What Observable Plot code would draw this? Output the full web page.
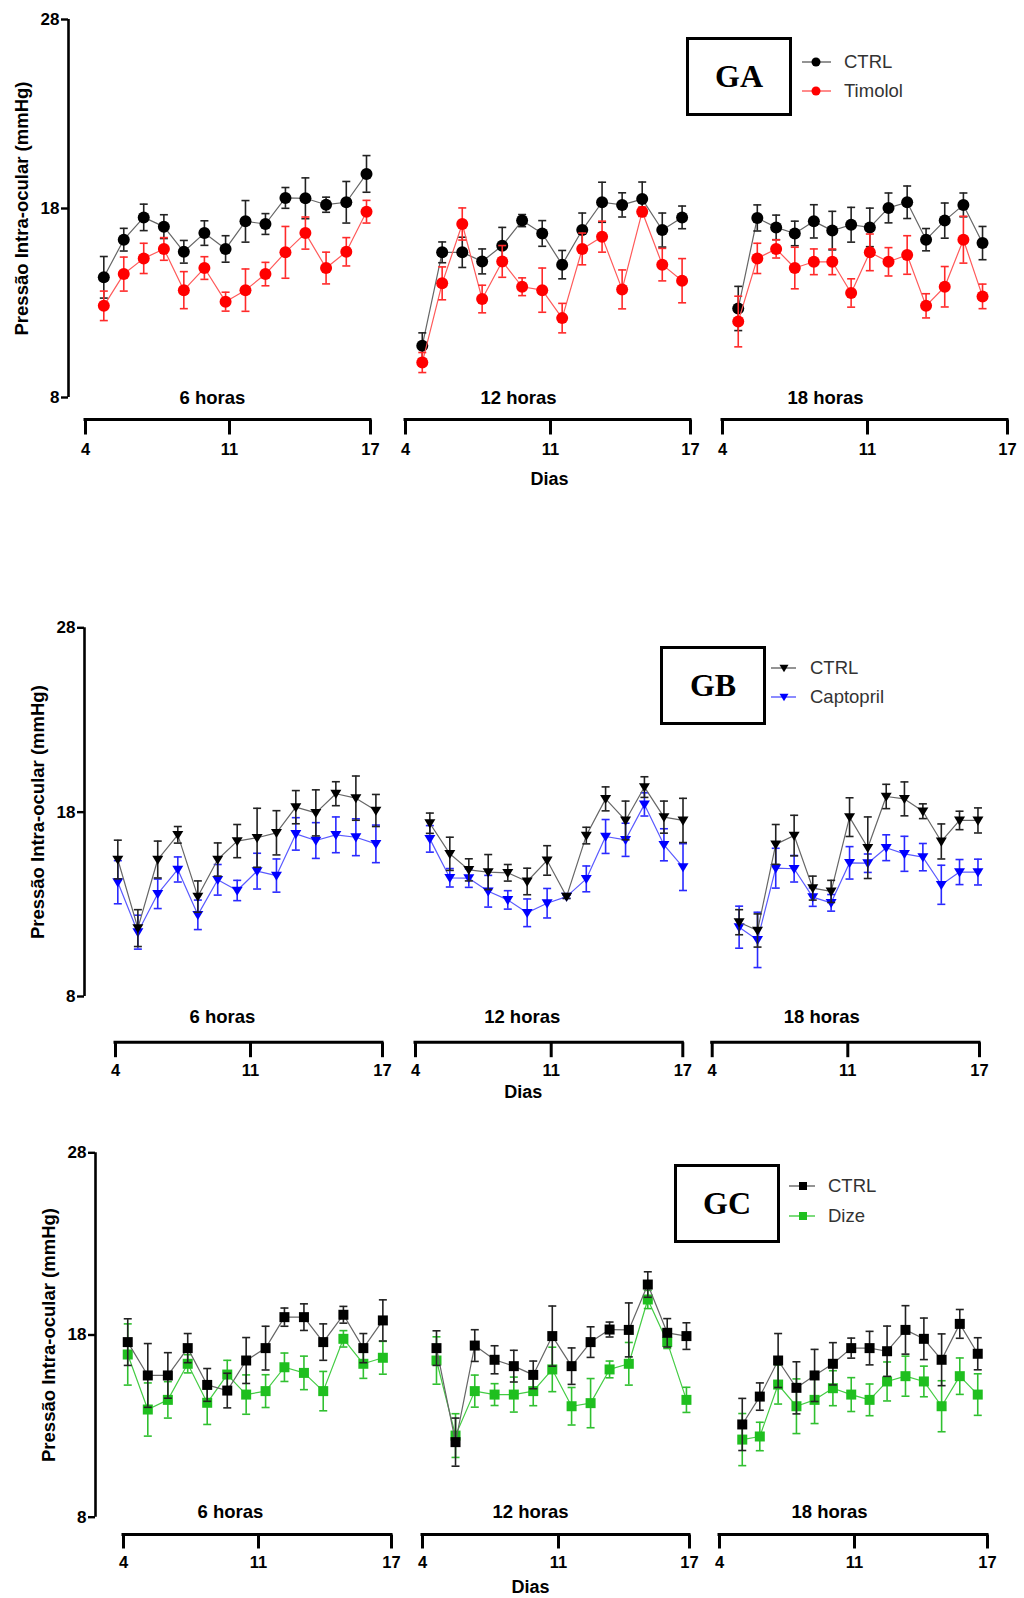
<!DOCTYPE html>
<html><head><meta charset="utf-8">
<script src="https://cdn.jsdelivr.net/npm/d3@7"></script>
<script src="https://cdn.jsdelivr.net/npm/@observablehq/plot@0.6"></script>
<style>
body{margin:0;background:#fff;font-family:"Liberation Sans",Arial,sans-serif}
#root{position:relative;width:1024px;height:1598px;background:#fff;overflow:hidden}
.panel{position:absolute;left:0}
.box{position:absolute;border:3.5px solid #000;box-sizing:border-box;display:flex;align-items:center;justify-content:center;font-family:"Liberation Serif","Times New Roman",serif;font-weight:bold;font-size:32px;color:#000;background:#fff}
.legtxt{position:absolute;font-size:18.5px;color:#333;line-height:20px;white-space:nowrap}
.sw{position:absolute}
</style></head><body><div id="root"></div><script>
// ---------- shared labels ----------
const segmentNames = ["6 horas", "12 horas", "18 horas"];
const dayTicks = [4, 11, 17];
const yTicks = [8, 18, 28];
const yTitle = "Pressão Intra-ocular (mmHg)";
const xTitle = "Dias";

// ---------- GA: CTRL vs Timolol ----------
const gaX6  = [4.89,5.86,6.83,7.81,8.78,9.78,10.81,11.68,12.53,13.38,14.23,15.11,15.97,16.83];
const gaX12 = [4.81,5.77,6.74,7.70,8.67,9.63,10.60,11.50,12.36,13.21,14.07,14.93,15.79,16.64];
const gaX18 = [4.76,5.68,6.59,7.49,8.41,9.30,10.21,11.10,11.90,12.70,13.51,14.31,15.11,15.93];
const gaCtrl6  = [14.36,16.35,17.53,17.04,15.71,16.70,15.86,17.32,17.18,18.56,18.54,18.20,18.33,19.83];
const gaCtrl6E = [1.1,0.6,0.7,0.63,0.6,0.65,0.7,1.1,0.55,0.55,1.08,0.4,1.1,0.97];
const gaTim6   = [12.85,14.53,15.36,15.86,13.68,14.85,13.07,13.68,14.53,15.68,16.70,14.85,15.71,17.83];
const gaTim6E  = [0.78,0.9,0.8,0.6,0.98,0.6,0.5,1.12,0.62,1.37,0.85,0.84,0.75,0.6];
const gaCtrl12  = [10.74,15.68,15.68,15.20,16.03,17.36,16.68,15.03,16.86,18.33,18.19,18.50,16.86,17.53];
const gaCtrl12E = [0.68,0.55,0.8,0.66,0.97,0.32,0.68,0.75,0.9,1.06,0.64,0.9,0.9,0.6];
const gaTim12   = [9.85,14.04,17.18,13.21,15.20,13.86,13.68,12.20,15.86,16.51,13.72,17.83,15.03,14.18];
const gaTim12E  = [0.53,0.87,0.85,0.73,0.84,0.47,1.17,0.78,0.84,0.82,1.03,0.25,0.86,1.17];
const gaCtrl18  = [12.71,17.50,17.00,16.68,17.32,16.83,17.14,17.00,18.03,18.33,16.35,17.36,18.19,16.17];
const gaCtrl18E = [1.17,0.69,0.65,0.65,0.88,1.02,0.92,1.02,0.79,0.86,0.59,0.93,0.63,0.88];
const gaTim18   = [12.02,15.36,15.86,14.85,15.18,15.18,13.53,15.68,15.18,15.54,12.85,13.86,16.35,13.35];
const gaTim18E  = [1.34,0.8,0.48,1.1,0.68,0.68,0.75,0.97,0.75,1.02,0.64,1.07,1.24,0.65];

// ---------- GB: CTRL vs Captopril ----------
const gbX6  = [4.12,5.16,6.19,7.23,8.27,9.30,10.31,11.30,12.18,13.06,13.97,14.88,15.79,16.70];
const gbX12 = [4.74,5.77,6.75,7.75,8.76,9.76,10.79,11.70,12.60,13.48,14.39,15.25,16.14,17.05];
const gbX18 = [5.39,6.34,7.28,8.23,9.19,10.14,11.08,11.91,12.75,13.58,14.42,15.26,16.09,16.93];
const gbCtrl6  = [15.43,11.71,15.43,16.77,13.42,15.43,16.43,16.61,16.88,18.27,17.96,19.00,18.76,18.09];
const gbCtrl6E = [1.05,1.0,1.0,0.45,0.85,0.9,0.9,1.6,1.2,0.9,1.25,0.65,1.2,0.87];
const gbCap6   = [14.20,11.49,13.57,14.89,12.43,14.33,13.75,14.80,14.56,16.82,16.46,16.77,16.64,16.28];
const gbCap6E  = [1.17,0.92,0.8,0.68,0.8,0.83,0.55,0.97,0.9,0.88,0.97,0.97,1.0,1.02];
const gbCtrl12  = [17.40,15.74,14.87,14.75,14.71,14.24,15.38,13.42,16.73,18.72,17.55,19.36,17.73,17.55];
const gbCtrl12E = [0.55,0.9,0.6,0.95,0.45,0.72,0.8,0.1,0.45,0.65,1.05,0.56,0.87,1.2];
const gbCap12   = [16.55,14.44,14.42,13.71,13.24,12.54,13.06,13.42,14.38,16.68,16.50,18.42,16.23,15.02];
const gbCap12E  = [0.72,0.5,0.5,0.86,0.5,0.75,0.8,0.1,0.7,0.92,0.9,0.63,0.87,1.27];
const gbCtrl18  = [12.03,11.58,16.25,16.73,13.88,13.70,17.73,16.07,18.85,18.72,18.05,16.41,17.55,17.55];
const gbCtrl18E = [0.68,0.9,1.08,1.1,0.65,0.6,1.05,1.67,0.66,0.92,0.4,0.95,0.5,0.68];
const gbCap18   = [11.76,11.07,14.96,14.93,13.39,13.08,15.25,15.23,16.07,15.74,15.56,14.06,14.75,14.75];
const gbCap18E  = [1.14,1.5,1.08,0.72,0.5,0.45,0.88,0.5,0.7,0.95,0.74,1.06,0.68,0.7];

// ---------- GC: CTRL vs Dize ----------
const gcX6  = [4.22,5.26,6.30,7.33,8.34,9.38,10.36,11.32,12.17,13.05,13.92,14.83,15.73,16.61];
const gcX12 = [4.72,5.70,6.69,7.71,8.70,9.70,10.68,11.60,12.47,13.34,14.22,15.09,15.98,16.86];
const gcX18 = [5.18,6.09,7.04,7.99,8.93,9.88,10.83,11.68,12.47,13.30,14.13,14.93,15.75,16.56];
const gcCtrl6  = [17.61,15.78,15.78,17.28,15.26,14.95,16.60,17.28,18.98,18.98,17.61,19.11,17.28,18.80];
const gcCtrl6E = [1.28,1.75,1.25,0.8,0.9,0.95,1.26,1.2,0.5,0.73,1.0,0.46,0.8,1.13];
const gcDize6  = [16.93,13.91,14.44,16.42,14.28,15.83,14.73,14.92,16.23,15.92,14.92,17.79,16.42,16.75];
const gcDize6E = [1.68,1.46,1.0,0.5,1.19,0.78,1.08,0.9,0.78,0.92,1.08,0.45,0.8,0.9];
const gcCtrl12  = [17.28,12.12,17.42,16.64,16.29,15.81,17.94,16.29,17.61,18.30,18.28,20.77,18.12,17.94];
const gcCtrl12E = [0.95,1.32,0.87,0.77,0.87,0.76,1.65,1.0,0.84,0.41,1.48,0.7,0.78,0.73];
const gcDize12  = [16.60,12.48,14.92,14.73,14.73,14.92,16.11,14.09,14.26,16.11,16.42,19.95,17.61,14.44];
const gcDize12E = [1.3,1.2,0.88,0.6,0.96,0.8,1.22,1.03,1.35,0.46,1.17,0.5,0.35,0.69];
const gcCtrl18  = [13.09,14.62,16.60,15.10,15.78,16.42,17.28,17.28,17.11,18.28,17.79,16.64,18.61,16.97];
const gcCtrl18E = [1.43,0.75,1.48,1.43,1.43,1.16,0.55,0.92,1.38,1.33,1.14,1.42,0.79,0.88];
const gcDize18  = [12.26,12.43,15.28,14.09,14.44,15.08,14.73,14.44,15.45,15.74,15.45,14.09,15.74,14.73];
const gcDize18E = [1.43,0.78,1.07,1.5,1.3,0.96,0.93,0.87,1.07,1.1,0.84,1.4,1.0,1.14];

// ---------- symbols ----------
const rad = size => Math.sqrt(size / Math.PI);
const capSym = {draw(ctx, size) { const r = rad(size); ctx.moveTo(-r, 0); ctx.lineTo(r, 0); }};
const vTickSym = {draw(ctx, size) { const r = rad(size); ctx.moveTo(0, 0); ctx.lineTo(0, r); }};
const triDown = {draw(ctx, size) { const r = rad(size); ctx.moveTo(-r, -0.7 * r); ctx.lineTo(r, -0.7 * r); ctx.lineTo(0, 0.95 * r); ctx.closePath(); }};
const squareSym = {draw(ctx, size) { const r = rad(size); ctx.rect(-r, -r, 2 * r, 2 * r); }};

const SEG = 20; // composite x: segment index * SEG + axis day

// ---------- panels (data refs + layout) ----------
const panels = [
  {
    key: "GA", top: 0, height: 500, axisX: 68, y28: 19, y8: 397,
    seg: [[85,229,370],[405,550,690],[722,867,1007]],
    bracketDy: 22, tickLen: 15, tickLabelDy: 52, segLabelDy: 1, segLabelDx: [-17,-32,-42], diasDx: -1, diasDy: 82,
    xs: [gaX6, gaX12, gaX18],
    series: [
      {name: "CTRL", mean: [gaCtrl6, gaCtrl12, gaCtrl18], err: [gaCtrl6E, gaCtrl12E, gaCtrl18E], fill: "#000", line: "#666", errc: "#222", symbol: "circle", r: 6, lr: 4.5},
      {name: "Timolol", mean: [gaTim6, gaTim12, gaTim18], err: [gaTim6E, gaTim12E, gaTim18E], fill: "#ff0000", line: "#ff5a5a", errc: "#ff2a2a", symbol: "circle", r: 6, lr: 4.5}
    ],
    drawOrder: [0, 1],
    box: {left: 686, top: 37, width: 106, height: 79},
    legend: {swL: 802, swR: 831, swM: 816, rows: [62, 91], textL: 844}
  },
  {
    key: "GB", top: 600, height: 510, axisX: 84, y28: 27.3, y8: 396,
    seg: [[115,250,382],[415,550.7,682.3],[711.7,847.3,979]],
    bracketDy: 45.7, tickLen: 15, tickLabelDy: 74, segLabelDy: 21, segLabelDx: [-28,-29,-26], diasDx: -28, diasDy: 96,
    xs: [gbX6, gbX12, gbX18],
    series: [
      {name: "CTRL", mean: [gbCtrl6, gbCtrl12, gbCtrl18], err: [gbCtrl6E, gbCtrl12E, gbCtrl18E], fill: "#000", line: "#666", errc: "#222", symbol: triDown, r: 5.5, lr: 4.5},
      {name: "Captopril", mean: [gbCap6, gbCap12, gbCap18], err: [gbCap6E, gbCap12E, gbCap18E], fill: "#0000ff", line: "#5a5aff", errc: "#2a2aff", symbol: triDown, r: 5.5, lr: 4.5}
    ],
    drawOrder: [1, 0],
    box: {left: 660, top: 646, width: 106, height: 79},
    legend: {swL: 771, swR: 796, swM: 784, rows: [668, 697], textL: 810}
  },
  {
    key: "GC", top: 1120, height: 478, axisX: 95, y28: 32.3, y8: 396.7,
    seg: [[123,258,391],[422,558,689],[719,854,987]],
    bracketDy: 17.3, tickLen: 14, tickLabelDy: 46, segLabelDy: -5, segLabelDx: [-28,-28,-25], diasDx: -28, diasDy: 70,
    xs: [gcX6, gcX12, gcX18],
    series: [
      {name: "CTRL", mean: [gcCtrl6, gcCtrl12, gcCtrl18], err: [gcCtrl6E, gcCtrl12E, gcCtrl18E], fill: "#000", line: "#666", errc: "#222", symbol: squareSym, r: 5, lr: 4},
      {name: "Dize", mean: [gcDize6, gcDize12, gcDize18], err: [gcDize6E, gcDize12E, gcDize18E], fill: "#1fbf1f", line: "#44cc44", errc: "#30c030", symbol: squareSym, r: 5, lr: 4}
    ],
    drawOrder: [1, 0],
    box: {left: 674, top: 1164, width: 106, height: 79},
    legend: {swL: 789, swR: 815, swM: 803, rows: [1186, 1216], textL: 828}
  }
];

const root = document.getElementById("root");

function buildPanel(P) {
  const domain = [0], range = [P.axisX];
  P.seg.forEach((px, s) => dayTicks.forEach((t, k) => { domain.push(s * SEG + t); range.push(px[k]); }));

  const tickRows = [];
  [0, 1, 2].forEach(s => dayTicks.forEach(t => tickRows.push({c: s * SEG + t, label: String(t)})));

  const seriesMarks = [];
  P.drawOrder.forEach(si => {
    const S = P.series[si];
    const rows = [];
    [0, 1, 2].forEach(s => S.mean[s].forEach((m, i) => {
      const e = S.err[s][i];
      rows.push({seg: s, c: s * SEG + P.xs[s][i], mean: m, lo: m - e, hi: m + e});
    }));
    seriesMarks.push(
      Plot.line(rows, {x: "c", y: "mean", z: "seg", stroke: S.line, strokeWidth: 1.2}),
      Plot.ruleX(rows, {x: "c", y1: "lo", y2: "hi", stroke: S.errc, strokeWidth: 1.6}),
      Plot.dot(rows, {x: "c", y: "hi", symbol: capSym, r: 4, stroke: S.errc, strokeWidth: 1.6, fill: "none"}),
      Plot.dot(rows, {x: "c", y: "lo", symbol: capSym, r: 4, stroke: S.errc, strokeWidth: 1.6, fill: "none"}),
      Plot.dot(rows, {x: "c", y: "mean", symbol: S.symbol, r: S.r, fill: S.fill, stroke: "none"})
    );
  });

  const chart = Plot.plot({
    width: 1024,
    height: P.height,
    marginLeft: P.axisX,
    marginRight: 0,
    marginTop: P.y28,
    marginBottom: P.height - P.y8,
    x: {type: "linear", domain, range, axis: null},
    y: {domain: [8, 28], axis: null},
    style: {fontFamily: "'Liberation Sans', Arial, sans-serif", fontWeight: "bold", fontSize: "16.5px", color: "#000", background: "transparent", overflow: "visible"},
    marks: [
      Plot.ruleX([0], {y1: () => 8, y2: () => 28, strokeWidth: 2.6}),
      Plot.axisY({ticks: yTicks, anchor: "left", tickSize: 7, tickPadding: 2, strokeWidth: 2.4, label: null, fontSize: 17}),
      Plot.text([yTitle], {frameAnchor: "left", textAnchor: "middle", lineAnchor: "middle", rotate: -90, dx: -46, text: d => d, fontSize: 18.5}),
      Plot.ruleY([0, 1, 2], {y: () => 8, x1: s => s * SEG + dayTicks[0], x2: s => s * SEG + dayTicks[2], dy: P.bracketDy, strokeWidth: 3, strokeLinecap: "square"}),
      Plot.dot(tickRows, {x: "c", y: () => 8, symbol: vTickSym, r: P.tickLen, dy: P.bracketDy, stroke: "#000", strokeWidth: 3, fill: "none"}),
      Plot.text(tickRows, {x: "c", y: () => 8, text: "label", dy: P.tickLabelDy, fontSize: 16.5}),
      ...segmentNames.map((name, s) => Plot.text([name], {x: () => s * SEG + dayTicks[1], y: () => 8, text: d => d, dx: P.segLabelDx[s], dy: P.segLabelDy, fontSize: 18.5})),
      Plot.text([xTitle], {x: () => SEG + dayTicks[1], y: () => 8, text: d => d, dx: P.diasDx, dy: P.diasDy, fontSize: 18}),
      ...seriesMarks
    ]
  });

  const wrap = document.createElement("div");
  wrap.className = "panel";
  wrap.style.top = P.top + "px";
  wrap.appendChild(chart);
  root.appendChild(wrap);

  // legend box + entries
  const box = document.createElement("div");
  box.className = "box";
  Object.assign(box.style, {left: P.box.left + "px", top: P.box.top + "px", width: P.box.width + "px", height: P.box.height + "px"});
  box.textContent = P.key;
  root.appendChild(box);

  const L = P.legend;
  P.series.forEach((S, i) => {
    const cy = L.rows[i];
    const w = L.swR - L.swL, h = 16;
    const path = d3.symbol(typeof S.symbol === "string" ? d3.symbolCircle : S.symbol, Math.PI * S.lr * S.lr)();
    const sw = document.createElement("div");
    sw.className = "sw";
    Object.assign(sw.style, {left: L.swL + "px", top: (cy - h / 2) + "px", width: w + "px", height: h + "px"});
    sw.innerHTML = `<svg width="${w}" height="${h}"><line x1="0" x2="${w}" y1="${h/2}" y2="${h/2}" stroke="${S.line}" stroke-width="1.4"/><path d="${path}" transform="translate(${L.swM - L.swL},${h/2})" fill="${S.fill}"/></svg>`;
    root.appendChild(sw);
    const t = document.createElement("div");
    t.className = "legtxt";
    Object.assign(t.style, {left: L.textL + "px", top: (cy - 10) + "px"});
    t.textContent = S.name;
    root.appendChild(t);
  });
}

panels.forEach(buildPanel);
</script></body></html>
